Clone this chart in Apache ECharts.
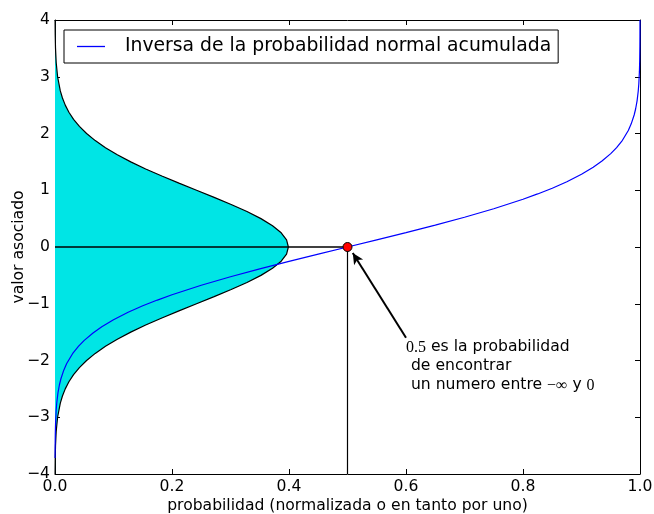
<!DOCTYPE html>
<html>
<head>
<meta charset="utf-8">
<script src="https://cdn.jsdelivr.net/npm/echarts@6/dist/echarts.min.js"></script>
<style>html,body{margin:0;padding:0;background:#fff}#c{width:654px;height:514px}</style>
</head>
<body>
<div id="c"></div>
<script>
// Inverse normal CDF curve (probability -> associated value)
const probP = [0.0001,0.0002,0.0005,0.001,0.002,0.003,0.005,0.0075,0.01,0.015,0.02,0.03,0.04,0.05,0.065,0.08,0.1,0.125,0.15,0.175,0.2,0.25,0.3,0.35,0.4,0.45,0.5,0.55,0.6,0.65,0.7,0.75,0.8,0.825,0.85,0.875,0.9,0.92,0.935,0.95,0.96,0.97,0.98,0.985,0.99,0.9925,0.995,0.997,0.998,0.999,0.9995,0.9998,0.9999,0.99995,0.99997];
const probV = [-3.719,-3.540,-3.291,-3.090,-2.878,-2.748,-2.576,-2.432,-2.326,-2.170,-2.054,-1.881,-1.751,-1.645,-1.514,-1.405,-1.282,-1.150,-1.036,-0.935,-0.842,-0.674,-0.524,-0.385,-0.253,-0.126,0,0.126,0.253,0.385,0.524,0.674,0.842,0.935,1.036,1.150,1.282,1.405,1.514,1.645,1.751,1.881,2.054,2.170,2.326,2.432,2.576,2.748,2.878,3.090,3.291,3.540,3.719,3.891,4.0];
// Normal density drawn sideways: value (y) and density (x)
const pdfY = [-4,-3.75,-3.5,-3.25,-3,-2.75,-2.625,-2.5,-2.375,-2.25,-2.125,-2,-1.875,-1.75,-1.625,-1.5,-1.375,-1.25,-1.125,-1,-0.875,-0.75,-0.625,-0.5,-0.375,-0.25,-0.125,0,0.125,0.25,0.375,0.5,0.625,0.75,0.875,1,1.125,1.25,1.375,1.5,1.625,1.75,1.875,2,2.125,2.25,2.375,2.5,2.625,2.75,3,3.25,3.5,3.75,4];
const pdfX = [0.000134,0.000353,0.000873,0.002029,0.004432,0.009094,0.012723,0.017528,0.023771,0.031740,0.041726,0.053991,0.068794,0.086277,0.106536,0.129518,0.155014,0.182649,0.211875,0.241971,0.272055,0.301137,0.328161,0.352065,0.371855,0.386668,0.395838,0.398942,0.395838,0.386668,0.371855,0.352065,0.328161,0.301137,0.272055,0.241971,0.211875,0.182649,0.155014,0.129518,0.106536,0.086277,0.068794,0.053991,0.041726,0.031740,0.023771,0.017528,0.012723,0.009094,0.004432,0.002029,0.000873,0.000353,0.000134];
const xTicks = {min: 0, max: 1, interval: 0.2};
const yTicks = {min: -4, max: 4, interval: 1};
const refPoint = [0.5, 0];
const arrowFrom = [0.6, -1.6];
const arrowTo = [0.509, -0.106];
const legendName = 'Inversa de la probabilidad normal acumulada';
const xName = 'probabilidad (normalizada o en tanto por uno)';
const yName = 'valor asociado';

const FONT = 'DejaVu Sans';
const FS = 15.6;
const probData = probP.map((p, i) => [p, probV[i]]);
const pdfData = pdfY.map((y, i) => [pdfX[i], y]);

function axisCommon(extra) {
  return Object.assign({
    type: 'value',
    axisLine: {show: true, onZero: false, lineStyle: {color: '#000', width: 1}},
    axisTick: {show: true, inside: true, length: 5, lineStyle: {color: '#000', width: 1}},
    splitLine: {show: false},
    axisLabel: {show: false}
  }, extra);
}

const chart = echarts.init(document.getElementById('c'), null, {renderer: 'canvas'});
chart.setOption({
  animation: false,
  backgroundColor: '#fff',
  textStyle: {fontFamily: FONT},
  grid: {left: 55, right: 14, top: 20, bottom: 40, containLabel: false, outerBoundsMode: 'none'},
  legend: {
    show: true,
    data: [legendName],
    left: 64, top: 30,
    padding: [5, 7, 5, 13],
    borderColor: '#000', borderWidth: 1, borderRadius: 0,
    backgroundColor: '#fff',
    icon: 'rect', itemWidth: 28, itemHeight: 1.3,
    itemStyle: {color: '#0000ff'},
    textStyle: {fontFamily: FONT, fontSize: 18.8, color: '#000', lineHeight: 23, padding: [0, 0, 0, 15]}
  },
  xAxis: [
    axisCommon(Object.assign({position: 'bottom', name: xName, nameLocation: 'middle', nameGap: 24,
      nameMoveOverlap: false,
      nameTextStyle: {fontFamily: FONT, fontSize: FS, color: '#000'},
      axisLabel: {show: true, color: '#000', fontFamily: FONT, fontSize: FS, margin: 5,
        formatter: v => v.toFixed(1)}}, xTicks)),
    axisCommon(Object.assign({position: 'top'}, xTicks))
  ],
  yAxis: [
    axisCommon(Object.assign({position: 'left', name: yName, nameLocation: 'middle', nameGap: 28,
      nameMoveOverlap: false,
      nameTextStyle: {fontFamily: FONT, fontSize: FS, color: '#000'},
      axisLabel: {show: true, color: '#000', fontFamily: FONT, fontSize: FS, margin: 5,
        formatter: v => (v < 0 ? '\u2212' + Math.abs(v) : String(v))}}, yTicks)),
    axisCommon(Object.assign({position: 'right'}, yTicks))
  ],
  series: [
    {
      type: 'custom', name: 'relleno', xAxisIndex: 0, yAxisIndex: 0, z: 1, silent: true,
      data: pdfData, clip: true,
      renderItem: function (params, api) {
        if (params.dataIndex !== 0) return null;
        const pts = pdfData.map(d => api.coord(d));
        pts.push(api.coord([0, pdfY[pdfY.length - 1]]));
        pts.push(api.coord([0, pdfY[0]]));
        return {type: 'polygon', shape: {points: pts}, style: {fill: '#00e5e5', stroke: null}};
      }
    },
    {
      type: 'line', name: 'densidad', data: pdfData, z: 2, symbol: 'none', silent: true,
      lineStyle: {color: '#000', width: 1.2}
    },
    {
      type: 'line', name: 'horizontal', data: [[0, 0], refPoint], z: 3, symbol: 'none', silent: true,
      lineStyle: {color: '#000', width: 1.3},
      markLine: {
        silent: true, symbol: ['none', 'arrow'], symbolSize: [8, 11],
        label: {show: false},
        lineStyle: {color: '#000', width: 2, type: 'solid'},
        data: [[{coord: arrowFrom}, {coord: arrowTo}]]
      }
    },
    {
      type: 'line', name: 'vertical', data: [[refPoint[0], yTicks.min], refPoint], z: 3, symbol: 'none', silent: true,
      lineStyle: {color: '#000', width: 1.2}
    },
    {
      type: 'line', name: legendName, data: probData, z: 4, symbol: 'none', silent: true,
      lineStyle: {color: '#0000ff', width: 1.2}, itemStyle: {color: '#0000ff'}
    },
    {
      type: 'scatter', name: 'punto', data: [refPoint], z: 6, symbolSize: 9, silent: true,
      itemStyle: {color: '#ff0000', borderColor: '#000', borderWidth: 1, opacity: 1}
    },
    {
      type: 'scatter', name: 'texto', data: [arrowFrom], z: 6, symbolSize: 0, silent: true,
      itemStyle: {opacity: 1},
      label: {
        show: true, position: [0, 0], align: 'left', verticalAlign: 'top',
        fontFamily: FONT, fontSize: FS, color: '#000', lineHeight: 19, textBorderWidth: 0, opacity: 1,
        formatter: '{n|}{m|0.5}{n| es la probabilidad}\n{n| de encontrar}\n{n| un numero entre }{m|\u2212\u221e}{n| y }{m|0}',
        rich: {
          n: {fontFamily: FONT, fontSize: FS, color: '#000', lineHeight: 19},
          m: {fontFamily: 'Liberation Serif', fontSize: 16, color: '#000', lineHeight: 19}
        }
      }
    }
  ]
});
</script>
</body>
</html>
